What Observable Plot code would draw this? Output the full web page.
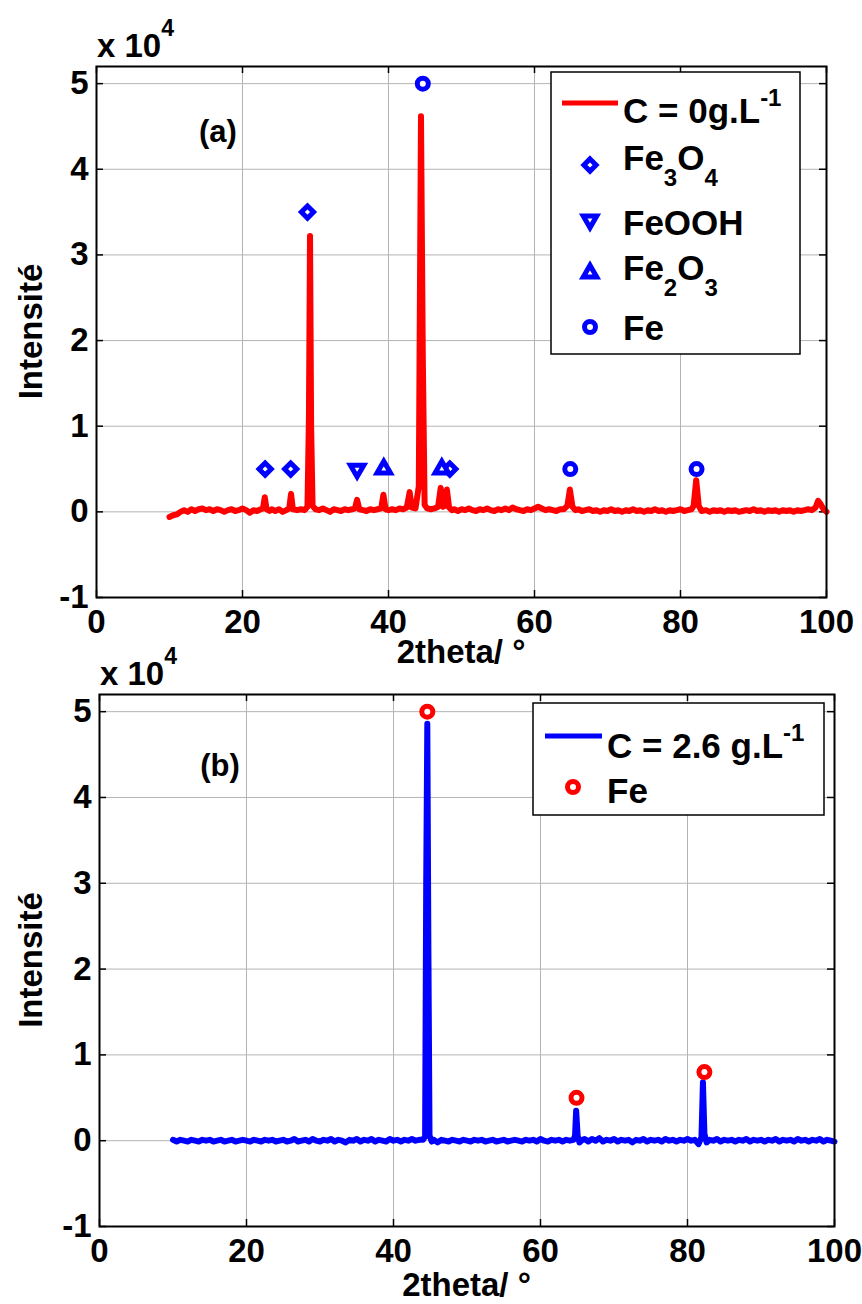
<!DOCTYPE html>
<html><head><meta charset="utf-8">
<script src="https://cdn.jsdelivr.net/npm/d3@7"></script>
<script src="https://cdn.jsdelivr.net/npm/@observablehq/plot@0.6"></script>
<style>
body{margin:0;background:#fff;}
#chart{position:relative;width:862px;height:1304px;}
#chart svg{display:block;overflow:visible;}
</style></head><body><div id="chart"></div>
<script>
const FONT = "'Liberation Sans', Arial, Helvetica, sans-serif";

// ---- axes ----
const xTicks = [0, 20, 40, 60, 80, 100];
const xTickLabels = ["0", "20", "40", "60", "80", "100"];
const yTicks = [-1, 0, 1, 2, 3, 4, 5];
const yTickLabels = ["-1", "0", "1", "2", "3", "4", "5"];
const xLabel = "2theta/ °";
const yLabel = "Intensité";

// ---- pattern (a): C = 0 g/L, [2theta, intensity x10^4] ----
const patternA = [
[10,-0.06],[10.5,-0.04],[11,-0.03],[11.5,0.0],[12,0.02],[12.5,0.0],[13,0.03],[13.5,0.01],[14,0.03],[14.5,0.04],
[15,0.02],[15.5,0.03],[16,0.01],[16.5,0.03],[17,0.02],[17.5,0.0],[18,0.02],[18.5,0.03],[19,0.01],[19.5,0.02],
[20,0.04],[20.5,0.02],[21,-0.01],[21.5,0.02],[22,0.01],[22.5,0.03],[22.8,0.04],[23.05,0.17],[23.3,0.03],[23.7,0.01],
[24,0.03],[24.5,0.01],[25,0.03],[25.5,0.0],[26,0.02],[26.4,0.04],[26.65,0.21],[26.9,0.03],[27.5,0.02],[28,0.03],
[28.5,0.02],[28.9,0.06],[29.1,1.1],[29.25,3.22],[29.4,1.0],[29.6,0.07],[30,0.03],[30.5,0.02],[31,0.04],[31.5,0.02],
[32,0.0],[32.5,0.03],[33,0.02],[33.5,0.01],[34,0.03],[34.5,0.02],[35,0.03],[35.4,0.04],[35.7,0.14],[36,0.03],
[36.5,0.02],[37,0.01],[37.5,0.03],[38,0.02],[38.5,0.03],[39,0.04],[39.3,0.2],[39.6,0.03],[40,0.02],[40.5,0.03],
[41,0.02],[41.5,0.04],[42,0.03],[42.5,0.05],[42.9,0.23],[43.2,0.05],[43.7,0.04],[44.15,0.3],[44.45,4.62],[44.7,1.8],
[44.95,0.08],[45.3,0.04],[45.8,0.03],[46.3,0.04],[46.8,0.06],[47.15,0.28],[47.45,0.06],[47.7,0.07],[48.0,0.26],[48.3,0.05],
[48.7,0.02],[49,0.03],[49.5,0.01],[50,0.03],[50.5,0.02],[51,0.04],[51.5,0.02],[52,0.01],[52.5,0.03],[53,0.02],
[53.5,0.04],[54,0.02],[54.5,0.01],[55,0.03],[55.5,0.02],[56,0.04],[56.5,0.02],[57,0.05],[57.5,0.03],[58,0.02],
[58.5,0.01],[59,0.03],[59.5,0.02],[60,0.04],[60.5,0.06],[61,0.04],[61.5,0.02],[62,0.03],[62.5,0.02],[63,0.01],
[63.5,0.03],[64,0.03],[64.5,0.07],[64.85,0.26],[65.2,0.06],[65.6,0.02],[66,0.03],[66.5,0.01],[67,0.02],[67.5,0.03],
[68,0.01],[68.5,0.02],[69,0.0],[69.5,0.02],[70,0.01],[70.5,0.03],[71,0.01],[71.5,0.02],[72,0.0],[72.5,0.02],
[73,0.01],[73.5,0.03],[74,0.01],[74.5,0.02],[75,0.0],[75.5,0.02],[76,0.01],[76.5,0.03],[77,0.01],[77.5,0.02],
[78,0.0],[78.5,0.02],[79,0.01],[79.5,0.02],[80,0.03],[80.5,0.01],[81,0.02],[81.5,0.03],[81.8,0.07],[82.15,0.37],
[82.5,0.07],[82.9,0.01],[83.5,0.02],[84,0.0],[84.5,0.02],[85,0.01],[85.5,0.02],[86,0.0],[86.5,0.02],[87,0.01],
[87.5,0.02],[88,0.0],[88.5,0.01],[89,0.02],[89.5,0.01],[90,0.03],[90.5,0.01],[91,0.02],[91.5,0.0],[92,0.02],
[92.5,0.01],[93,0.02],[93.5,0.0],[94,0.02],[94.5,0.01],[95,0.02],[95.5,0.0],[96,0.02],[96.5,0.01],[97,0.02],
[97.5,0.03],[98,0.02],[98.5,0.05],[98.85,0.13],[99.2,0.09],[99.6,0.03],[100,0.0]
];

// ---- pattern (b): C = 2.6 g/L ----
const patternB = [
[10,0.01],[10.5,-0.01],[11,0.01],[11.5,0.0],[12,-0.01],[12.5,0.01],[13,0.0],[13.5,-0.01],[14,0.01],[14.5,0.0],
[15,0.01],[15.5,-0.01],[16,0.0],[16.5,0.01],[17,-0.01],[17.5,0.0],[18,0.01],[18.5,-0.01],[19,0.0],[19.5,0.01],
[20,0.0],[20.5,-0.01],[21,0.01],[21.5,0.0],[22,-0.01],[22.5,0.01],[23,0.0],[23.5,0.01],[24,-0.01],[24.5,0.0],
[25,0.01],[25.5,-0.01],[26,0.0],[26.5,0.02],[27,-0.01],[27.5,0.0],[28,0.01],[28.5,-0.01],[29,0.02],[29.5,0.0],
[30,-0.01],[30.5,0.01],[31,0.0],[31.5,0.02],[32,-0.01],[32.5,0.01],[33,0.0],[33.5,-0.02],[34,0.01],[34.5,0.0],
[35,0.02],[35.5,-0.01],[36,0.01],[36.5,0.0],[37,0.02],[37.5,-0.01],[38,0.01],[38.5,0.0],[39,-0.01],[39.5,0.02],
[40,0.0],[40.5,0.01],[41,-0.01],[41.5,0.01],[42,0.0],[42.5,0.02],[43,0.0],[43.5,0.01],[44,0.01],[44.3,0.05],
[44.45,3.0],[44.6,4.86],[44.75,2.2],[44.9,0.06],[45.2,-0.01],[45.5,0.01],[46,-0.02],[46.5,0.01],[47,0.0],[47.5,-0.01],
[48,0.01],[48.5,0.0],[49,-0.01],[49.5,0.01],[50,0.0],[50.5,-0.01],[51,0.01],[51.5,0.0],[52,0.01],[52.5,-0.01],
[53,0.0],[53.5,0.01],[54,-0.01],[54.5,0.0],[55,0.01],[55.5,-0.01],[56,0.0],[56.5,0.01],[57,0.0],[57.5,-0.01],
[58,0.01],[58.5,0.0],[59,0.01],[59.5,-0.01],[60,0.02],[60.5,0.0],[61,-0.01],[61.5,0.01],[62,0.0],[62.5,0.01],
[63,-0.01],[63.5,0.01],[64,0.0],[64.5,0.01],[64.7,0.06],[64.85,0.35],[65.05,0.06],[65.3,-0.02],[65.7,0.01],[66,0.02],
[66.5,-0.01],[67,0.02],[67.5,0.0],[68,0.03],[68.5,-0.01],[69,0.01],[69.5,0.0],[70,0.02],[70.5,-0.01],[71,0.01],
[71.5,0.0],[72,0.01],[72.5,-0.02],[73,0.01],[73.5,0.0],[74,0.02],[74.5,-0.01],[75,0.01],[75.5,0.0],[76,0.01],
[76.5,-0.01],[77,0.02],[77.5,0.0],[78,0.01],[78.5,-0.01],[79,0.01],[79.5,0.0],[80,0.02],[80.5,0.0],[81,0.01],
[81.5,-0.04],[81.9,0.04],[82.1,0.68],[82.3,0.08],[82.6,-0.02],[83,0.01],[83.5,0.0],[84,0.02],[84.5,-0.01],[85,0.01],
[85.5,0.0],[86,0.01],[86.5,-0.01],[87,0.01],[87.5,0.0],[88,0.02],[88.5,-0.01],[89,0.01],[89.5,0.0],[90,0.01],
[90.5,-0.01],[91,0.01],[91.5,0.0],[92,0.02],[92.5,-0.01],[93,0.01],[93.5,0.0],[94,0.01],[94.5,-0.01],[95,0.02],
[95.5,0.0],[96,0.01],[96.5,-0.01],[97,0.01],[97.5,0.0],[98,0.02],[98.5,-0.01],[99,0.01],[99.5,0.0],[100,-0.01]
];

// ---- phase markers ----
const fe3o4A = [[23.1,0.5],[26.6,0.5],[28.9,3.5],[48.4,0.5]];
const feoohA = [[35.7,0.5]];
const fe2o3A = [[39.35,0.5],[47.3,0.5]];
const feA = [[44.7,5.0],[64.9,0.5],[82.2,0.5]];
const feB = [[44.6,5.0],[64.9,0.5],[82.3,0.8]];

const legendA = ["C = 0g.L", "Fe3O4", "FeOOH", "Fe2O3", "Fe"];
const legendB = ["C = 2.6 g.L", "Fe"];

const RED = "#ff0000", BLUE = "#0000ff";

const triangleDown = {
  draw(context, size) {
    const y = -Math.sqrt(size / (Math.sqrt(3) * 3));
    context.moveTo(0, -2 * y);
    context.lineTo(-Math.sqrt(3) * y, y);
    context.lineTo(Math.sqrt(3) * y, y);
    context.closePath();
  }
};

const markerStyle = {
  diamond: {symbol: "diamond2", r: 5.5, strokeWidth: 5},
  down: {symbol: triangleDown, r: 5, strokeWidth: 5},
  up: {symbol: "triangle", r: 5, strokeWidth: 5},
  circle: {symbol: "circle", r: 5.5, strokeWidth: 5}
};

function dots(data, kind, color) {
  const s = markerStyle[kind];
  return Plot.dot(data, {x: d => d[0], y: d => d[1], symbol: s.symbol, r: s.r,
    stroke: color, strokeWidth: s.strokeWidth, fill: "white", strokeLinejoin: "miter"});
}

function panel(cfg) {
  const tickPxX = 7 / ((cfg.height - cfg.mt - cfg.mb) / 6.2);
  const tickPxY = 7 / ((862 - cfg.ml - cfg.mr) / 100);
  const marks = [
    Plot.ruleX(xTicks, {x: d => d, y1: -1, y2: 5.2, stroke: "#b4b4b4", strokeWidth: 1}),
    Plot.ruleY(yTicks, {y: d => d, x1: 0, x2: 100, stroke: "#b4b4b4", strokeWidth: 1}),
    Plot.ruleX(xTicks, {x: d => d, y1: -1, y2: -1 + tickPxX, stroke: "black", strokeWidth: 1.5}),
    Plot.ruleX(xTicks, {x: d => d, y1: 5.2, y2: 5.2 - tickPxX, stroke: "black", strokeWidth: 1.5}),
    Plot.ruleY(yTicks, {y: d => d, x1: 0, x2: tickPxY, stroke: "black", strokeWidth: 1.5}),
    Plot.ruleY(yTicks, {y: d => d, x1: 100, x2: 100 - tickPxY, stroke: "black", strokeWidth: 1.5}),
    Plot.line(cfg.data, {x: d => d[0], y: d => d[1], stroke: cfg.color, strokeWidth: 6, strokeLinejoin: "round", strokeLinecap: "round"}),
    ...cfg.markers,
    Plot.frame({stroke: "black", strokeWidth: 2}),
    Plot.text(xTicks, {x: d => d, y: -1, text: (d, i) => xTickLabels[i], lineAnchor: "top", dy: 12,
      fontSize: 33, fontWeight: "bold", fill: "black", fontFamily: FONT}),
    Plot.text(yTicks, {x: 0, y: d => d, text: (d, i) => yTickLabels[i], textAnchor: "end", dx: -8,
      fontSize: 33, fontWeight: "bold", fill: "black", fontFamily: FONT})
  ];
  return Plot.plot({
    width: 862, height: cfg.height,
    marginLeft: cfg.ml, marginRight: cfg.mr, marginTop: cfg.mt, marginBottom: cfg.mb,
    x: {domain: [0, 100], axis: null},
    y: {domain: [-1, 5.2], axis: null},
    style: {background: "transparent", overflow: "visible", fontFamily: FONT},
    marks
  });
}

function richText(sel, x, y, parts, size, anchor) {
  const t = sel.append("text").attr("x", x).attr("y", y)
    .attr("font-family", FONT).attr("font-weight", "bold").attr("font-size", size)
    .attr("fill", "black").attr("text-anchor", anchor || "start");
  let shift = 0;
  for (const p of parts) {
    const target = p.off || 0;
    const ts = t.append("tspan").attr("dy", target - shift).text(p.t);
    if (p.size) ts.attr("font-size", p.size);
    shift = target;
  }
  return t;
}

function symbolPath(kind) {
  const s = markerStyle[kind];
  const type = s.symbol === "diamond2" ? d3.symbolDiamond2 : s.symbol === "triangle" ? d3.symbolTriangle
    : s.symbol === "circle" ? d3.symbolCircle : triangleDown;
  return d3.symbol().type(type).size(Math.PI * s.r * s.r)();
}

function decorate(svg, cfg) {
  const g = d3.select(svg).append("g");
  const cx = (cfg.ml + 862 - cfg.mr) / 2;
  const cy = (cfg.mt + cfg.height - cfg.mb) / 2;
  // y label
  g.append("text").attr("transform", `translate(42,${cy}) rotate(-90)`)
    .attr("text-anchor", "middle").attr("font-family", FONT).attr("font-weight", "bold")
    .attr("font-size", 33).attr("fill", "black").text(yLabel);
  // x label
  g.append("text").attr("x", cx).attr("y", cfg.height - cfg.mb + cfg.xLabelDy)
    .attr("text-anchor", "middle").attr("font-family", FONT).attr("font-weight", "bold")
    .attr("font-size", 33).attr("fill", "black").text(xLabel);
  // exponent
  richText(g, cfg.ml + 1, cfg.mt - 9, [{t: "x 10"}, {t: "4", size: 23, off: -21}], 33);
  // panel label
  g.append("text").attr("x", cfg.labelX).attr("y", cfg.labelY).attr("text-anchor", "middle")
    .attr("font-family", FONT).attr("font-weight", "bold").attr("font-size", 31)
    .attr("fill", "black").text(cfg.label);
  // legend
  const L = cfg.legend;
  g.append("rect").attr("x", L.x).attr("y", L.y).attr("width", L.w).attr("height", L.h)
    .attr("fill", "white").attr("stroke", "black").attr("stroke-width", 1.5);
  for (const it of L.items) {
    if (it.line) {
      g.append("line").attr("x1", it.x1).attr("x2", it.x2).attr("y1", it.sy).attr("y2", it.sy)
        .attr("stroke", it.color).attr("stroke-width", 5);
    } else {
      const s = markerStyle[it.kind];
      g.append("path").attr("d", symbolPath(it.kind)).attr("transform", `translate(${it.sx},${it.sy})`)
        .attr("fill", "white").attr("stroke", it.color).attr("stroke-width", s.strokeWidth);
    }
    richText(g, L.tx, it.ty, it.parts, 35);
  }
}

const chart = document.getElementById("chart");

const cfgA = {
  height: 660, ml: 96, mr: 36, mt: 66, mb: 63, data: patternA, color: RED, xLabelDy: 66,
  label: "(a)", labelX: 218, labelY: 142,
  markers: [dots(fe3o4A, "diamond", BLUE), dots(feoohA, "down", BLUE), dots(fe2o3A, "up", BLUE), dots(feA, "circle", BLUE)],
  legend: {x: 551, y: 72, w: 249, h: 282, tx: 623, items: [
    {line: true, x1: 562, x2: 618, sy: 103, color: RED, ty: 123, parts: [{t: legendA[0]}, {t: "-1", size: 24, off: -17}]},
    {kind: "diamond", sx: 590, sy: 165, color: BLUE, ty: 170, parts: [{t: "Fe"}, {t: "3", size: 24, off: 16}, {t: "O"}, {t: "4", size: 24, off: 16}]},
    {kind: "down", sx: 590, sy: 220, color: BLUE, ty: 235, parts: [{t: legendA[2]}]},
    {kind: "up", sx: 590, sy: 273, color: BLUE, ty: 280, parts: [{t: "Fe"}, {t: "2", size: 24, off: 16}, {t: "O"}, {t: "3", size: 24, off: 16}]},
    {kind: "circle", sx: 590, sy: 327, color: BLUE, ty: 340, parts: [{t: legendA[4]}]}
  ]}
};
const svgA = panel(cfgA);
chart.appendChild(svgA);
decorate(svgA, cfgA);

const cfgB = {
  height: 644, ml: 99, mr: 28, mt: 34, mb: 78, data: patternB, color: BLUE, xLabelDy: 70,
  label: "(b)", labelX: 220, labelY: 116,
  markers: [dots(feB, "circle", RED)],
  legend: {x: 533, y: 43, w: 291, h: 112, tx: 607, items: [
    {line: true, x1: 545, x2: 602, sy: 76, color: BLUE, ty: 98, parts: [{t: legendB[0]}, {t: "-1", size: 24, off: -17}]},
    {kind: "circle", sx: 573, sy: 127, color: RED, ty: 143, parts: [{t: legendB[1]}]}
  ]}
};
const svgB = panel(cfgB);
chart.appendChild(svgB);
decorate(svgB, cfgB);
</script></body></html>
